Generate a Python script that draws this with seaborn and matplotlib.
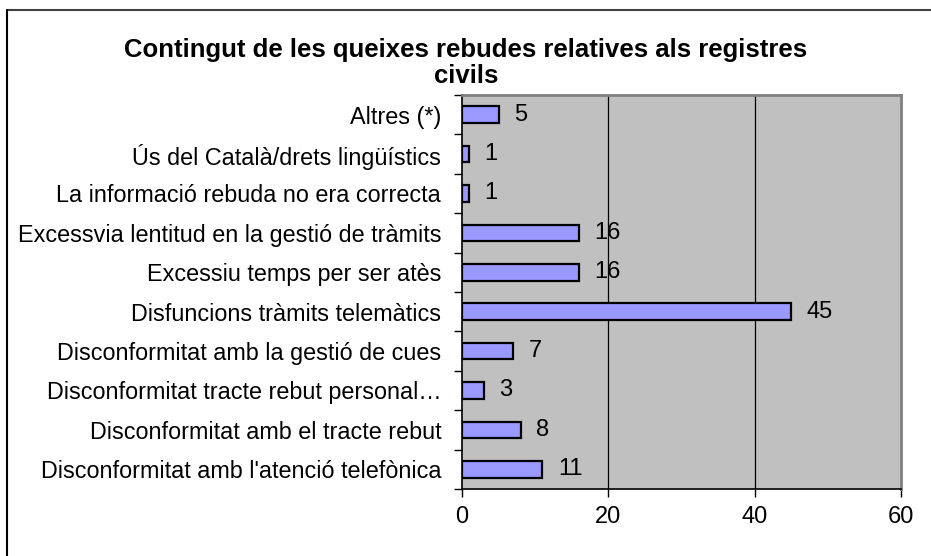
import pandas as pd
import matplotlib.pyplot as plt
import seaborn as sns

# categories from top to bottom, as in the chart
categories = [
    "Altres (*)",
    "Ús del Català/drets lingüístics",
    "La informació rebuda no era correcta",
    "Excessvia lentitud en la gestió de tràmits",
    "Excessiu temps per ser atès",
    "Disfuncions tràmits telemàtics",
    "Disconformitat amb la gestió de cues",
    "Disconformitat tracte rebut personal…",
    "Disconformitat amb el tracte rebut",
    "Disconformitat amb l'atenció telefònica",
]
values = [5, 1, 1, 16, 16, 45, 7, 3, 8, 11]
x_ticks = [0, 20, 40, 60]

TITLE = "Contingut de les queixes rebudes relatives als registres\ncivils"

sns.set_style("white")
plt.rcParams["font.family"] = ["Liberation Sans", "DejaVu Sans"]
plt.rcParams["text.color"] = "black"
plt.rcParams["xtick.color"] = "black"
plt.rcParams["ytick.color"] = "black"

df = pd.DataFrame({"categoria": categories, "queixes": values})

fig = plt.figure(figsize=(9.31, 5.56), dpi=100)
ax = fig.add_axes([462 / 931, 1 - 489 / 556, (901 - 462) / 931, (489 - 95) / 556])

sns.barplot(data=df, x="queixes", y="categoria", orient="h", ax=ax,
            color="#9999FF", edgecolor="black", linewidth=1.6,
            width=0.42, saturation=1, zorder=3)

ax.set_facecolor("#C0C0C0")
ax.set_xlim(0, 60)
ax.set_ylim(len(categories) - 0.5, -0.5)
ax.set_xticks(x_ticks)
ax.set_xticklabels([str(t) for t in x_ticks], fontsize=17)
for g in x_ticks[1:-1]:
    ax.axvline(g, color="black", lw=0.9, zorder=1)

# category ticks sit between the bars (Excel style)
ax.set_yticks([i - 0.5 for i in range(len(categories) + 1)], minor=False)
ax.set_yticklabels([])
ax.set_yticks(range(len(categories)), minor=True)
ax.set_yticklabels(categories, minor=True, fontsize=16.8)
ax.tick_params(axis="y", which="minor", length=0, pad=15)
ax.tick_params(axis="y", which="major", length=6, width=1, direction="out", left=True)
ax.tick_params(axis="x", length=6, width=1, direction="out", bottom=True, pad=6)
ax.set_xlabel("")
ax.set_ylabel("")

for side in ["left", "bottom"]:
    ax.spines[side].set_color("black")
    ax.spines[side].set_linewidth(1.2)
for side in ["top", "right"]:
    ax.spines[side].set_color("#808080")
    ax.spines[side].set_linewidth(2)

ax.bar_label(ax.containers[0], labels=[str(v) for v in values],
             padding=11, fontsize=17)

fig.text(466 / 931, 1 - 63 / 556, TITLE, ha="center", va="center",
         fontsize=18.5, fontweight="bold", linespacing=1.15)

# outer chart border (top and left only visible)
fig.add_artist(plt.Line2D([7 / 931, 1], [1 - 9.5 / 556] * 2, color="#404040", lw=1.5))
fig.add_artist(plt.Line2D([7 / 931] * 2, [0, 1 - 9.5 / 556], color="black", lw=1.5))

fig.savefig("out.png", dpi=100)
